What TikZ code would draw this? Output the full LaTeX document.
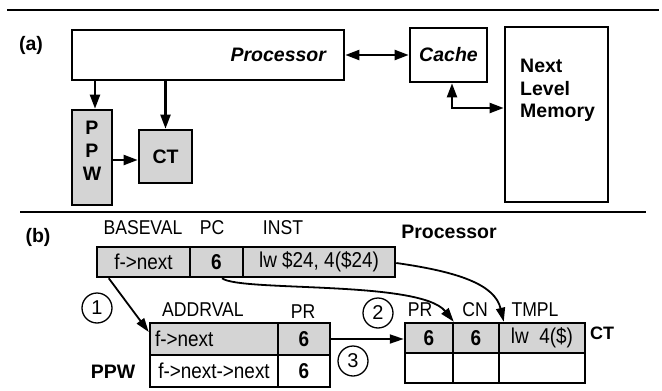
\documentclass[tikz,border=0pt]{standalone}
\usepackage{fontspec}
\setmainfont{Liberation Sans}
\newfontfamily\nf[FakeStretch=0.88]{Liberation Sans}
\usetikzlibrary{arrows.meta,calc}
\begin{document}
\begin{tikzpicture}[x=1pt,y=-1pt,
 box/.style={draw,line width=2.7pt,inner sep=0pt},
 shd/.style={fill=black!17},
 bft/.style={font=\fontsize{19.5}{22.5}\selectfont\bfseries},
 bfi/.style={font=\fontsize{19.5}{22}\selectfont\bfseries\itshape},
 lab/.style={font=\nf\fontsize{20}{22}\selectfont,inner sep=0pt},
 cell/.style={draw,line width=2.5pt,inner sep=0pt,font=\nf\fontsize{21.5}{24}\selectfont},
 conA/.style={line width=2.2pt,-{Triangle[length=14pt,width=10pt]}},
 conB/.style={line width=1.8pt,-{Triangle[length=14pt,width=9pt]}},
 num/.style={draw,circle,line width=1.3pt,minimum size=30pt,inner sep=0pt,font=\fontsize{20}{22}\selectfont}
]
\useasboundingbox (0,0) rectangle (662,391);
% separators
\draw[line width=1.6pt] (7,10) -- (659,10);
\draw[line width=1.6pt] (20,212) -- (646,212);
% ---------------- (a)
\node[bft,inner sep=0pt] (la) at (31,45) {(a)};
\node[box,bfi,minimum width=272pt,minimum height=50pt,text width=236pt,align=right] (proc) at (208,55) {Processor};
\node[box,bfi,minimum width=77pt,minimum height=54pt] (cache) at (448.5,55) {Cache};
\node[box,minimum width=103pt,minimum height=175pt] (mem) at (556.5,114.5) {};
\node[bft,inner sep=0pt,anchor=north west,align=left] (memtxt) at (520,59) {Next\\Level\\Memory};
\node[box,shd,minimum width=40pt,minimum height=95pt] (ppw) at (92,157.5) {};
\node[font=\fontsize{19.5}{23}\selectfont\bfseries,inner sep=0pt,align=center] (ppwtxt) at (92,151) {P\\P\\W};
\node[box,shd,bft,minimum width=53pt,minimum height=53pt] (ct) at (165.5,156.5) {CT};
\draw[line width=2.2pt,{Triangle[length=14pt,width=10pt]}-{Triangle[length=14pt,width=10pt]}] (proc.east) -- (cache.west);
\draw[line width=2.2pt,{Triangle[length=14pt,width=10pt]}-{Triangle[length=14pt,width=10pt]}] ([xshift=3.5pt]cache.south) |- ([yshift=6.5pt]mem.west);
\draw[conA] ([xshift=3pt]ppw.north |- proc.south) -- ([xshift=3pt]ppw.north);
\draw[conA] (ct.north |- proc.south) -- (ct.north);
\draw[conA] ([yshift=-2.5pt]ppw.east) -- ([yshift=-2.5pt]ppw.east -| ct.west);
% ---------------- (b)
\node[bft,inner sep=0pt] (lb) at (38,237) {(b)};
\node[lab] (lbv) at (143,228) {BASEVAL};
\node[lab] (lpc) at (212,228) {PC};
\node[lab] (linst) at (283,228) {INST};
\node[bft,inner sep=0pt] (lproc) at (449,232) {Processor};
\node[cell,shd,minimum width=93pt,minimum height=30pt] (bv) at (143.5,262) {f->next};
\node[cell,shd,minimum width=53pt,minimum height=30pt] (pc) at (216.5,262) {\bfseries 6};
\node[cell,shd,minimum width=152pt,minimum height=30pt] (inst) at (319,262) {lw \$24, 4(\$24)};
% PPW table
\node[lab] (laddr) at (203,310) {ADDRVAL};
\node[lab] (lpr1) at (303,312) {PR};
\node[bft,inner sep=0pt] (lppw) at (113,372) {PPW};
\node[cell,shd,minimum width=128pt,minimum height=32pt,text width=118pt,align=left] (a1) at (214,339) {f->next};
\node[cell,shd,minimum width=52pt,minimum height=32pt] (p1) at (304,339) {\bfseries 6};
\node[cell,minimum width=128pt,minimum height=32pt] (a2) at (214,371) {f->next->next};
\node[cell,minimum width=52pt,minimum height=32pt] (p2) at (304,371) {\bfseries 6};
% CT table
\node[lab] (lpr2) at (420,310) {PR};
\node[lab] (lcn) at (475,310) {CN};
\node[lab] (ltmpl) at (535,310) {TMPL};
\node[font=\fontsize{18}{20}\selectfont\bfseries,inner sep=0pt] (lct) at (602,333) {CT};
\node[cell,shd,minimum width=48pt,minimum height=30pt] (c1) at (429,338) {\bfseries 6};
\node[cell,shd,minimum width=46pt,minimum height=30pt] (c2) at (476,338) {\bfseries 6};
\node[cell,shd,minimum width=86pt,minimum height=30pt] (c3) at (542,338) {lw\ \ 4(\$)};
\node[cell,minimum width=48pt,minimum height=30pt] (d1) at (429,368) {};
\node[cell,minimum width=46pt,minimum height=30pt] (d2) at (476,368) {};
\node[cell,minimum width=86pt,minimum height=30pt] (d3) at (542,368) {};
% numbers
\node[num] (n1) at (97,308) {1};
\node[num] (n2) at (378,313) {2};
\node[num] (n3) at (353,361) {3};
% connectors
\draw[conB] ([xshift=13pt]bv.south west) -- ([yshift=7pt]a1.west);
\draw[conB] (p1.east) -- (p1.east -| c1.west);
\draw[conB] ([xshift=5.5pt]pc.south) .. controls (240,292) and (420,280) .. ([xshift=2pt]c2.north west);
\draw[conB] ([yshift=-1pt]inst.east) .. controls (460,272) and (495,285) .. ([xshift=6pt]c3.north west);
\end{tikzpicture}
\end{document}
